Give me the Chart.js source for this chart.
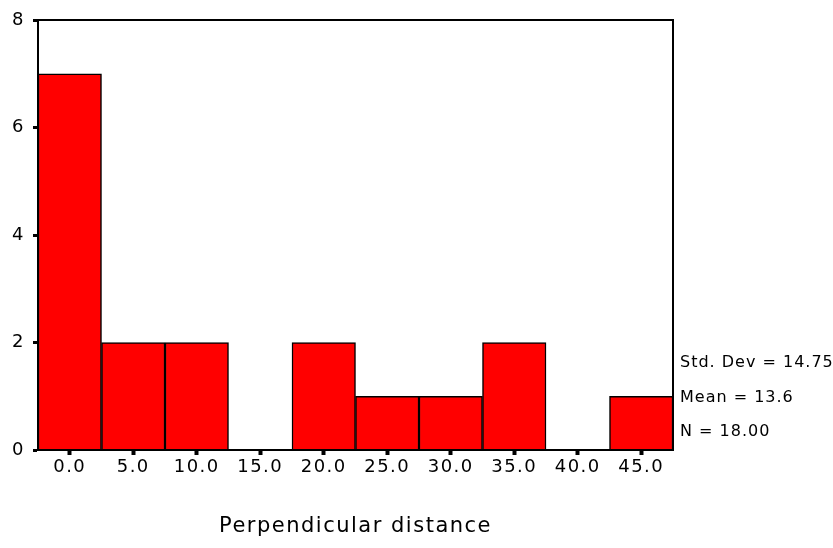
<!DOCTYPE html>
<html>
<head>
<meta charset="utf-8">
<script src="https://cdn.jsdelivr.net/npm/chart.js@4/dist/chart.umd.min.js"></script>
<style>
  html, body { margin: 0; padding: 0; background: #fff; }
  #wrap { width: 833px; height: 548px; }
</style>
</head>
<body>
<div id="wrap"><canvas id="hist"></canvas></div>
<script>
// Histogram of perpendicular distance, bins of width 5
const bins = ['0.0', '5.0', '10.0', '15.0', '20.0', '25.0', '30.0', '35.0', '40.0', '45.0'];
const counts = [7, 2, 2, 0, 2, 1, 1, 2, 0, 1];
const yTicks = [0, 2, 4, 6, 8];
const stats = ['Std. Dev = 14.75', 'Mean = 13.6', 'N = 18.00'];

const FONT = 'DejaVu Sans, Verdana, sans-serif';

// slightly spaced-out lettering for all axis text
const spacingPlugin = {
    id: 'spacing',
    beforeDraw(chart) {
        chart.ctx.letterSpacing = '1.5px';
    }
};

// frame around the plot area + summary text on the right
const framePlugin = {
    id: 'frame',
    afterDraw(chart) {
        const { ctx, chartArea: a } = chart;
        ctx.save();
        ctx.strokeStyle = '#000';
        ctx.lineWidth = 2;
        ctx.strokeRect(a.left, a.top, a.right - a.left, a.bottom - a.top);
        ctx.fillStyle = '#000';
        ctx.font = '16px ' + FONT;
        ctx.letterSpacing = '1px';
        ctx.textBaseline = 'middle';
        const rows = [a.bottom - 87, a.bottom - 52, a.bottom - 18];
        stats.forEach((s, i) => ctx.fillText(s, a.right + 7, rows[i]));
        ctx.restore();
    }
};

new Chart(document.getElementById('hist'), {
    type: 'bar',
    data: {
        labels: bins,
        datasets: [{
            data: counts,
            backgroundColor: '#FF0000',
            borderColor: '#000',
            borderWidth: 1.5,
            barPercentage: 1,
            categoryPercentage: 1
        }]
    },
    options: {
        responsive: true,
        maintainAspectRatio: false,
        animation: false,
        layout: { padding: { top: 20, right: 160, left: 0, bottom: 0 } },
        plugins: { legend: { display: false }, tooltip: { enabled: false } },
        scales: {
            x: {
                grid: { display: true, drawOnChartArea: false, offset: false, tickLength: 5, tickWidth: 4, tickColor: '#000' },
                border: { display: true, color: '#000', width: 2 },
                ticks: { color: '#000', font: { family: FONT, size: 18 }, padding: 2, maxRotation: 0 },
                title: { display: true, text: 'Perpendicular distance', color: '#000', font: { family: FONT, size: 21 }, padding: { bottom: 9 } },
                afterFit: s => { s.height = 98; }
            },
            y: {
                min: 0,
                max: 8,
                afterBuildTicks: s => { s.ticks = yTicks.map(v => ({ value: v })); },
                grid: { display: true, drawOnChartArea: false, tickLength: 5, tickWidth: 3, tickColor: '#000' },
                border: { display: true, color: '#000', width: 2 },
                ticks: { color: '#000', font: { family: FONT, size: 18 }, padding: 8 },
                afterFit: s => { s.width = 38; }
            }
        }
    },
    plugins: [spacingPlugin, framePlugin]
});
</script>
</body>
</html>
